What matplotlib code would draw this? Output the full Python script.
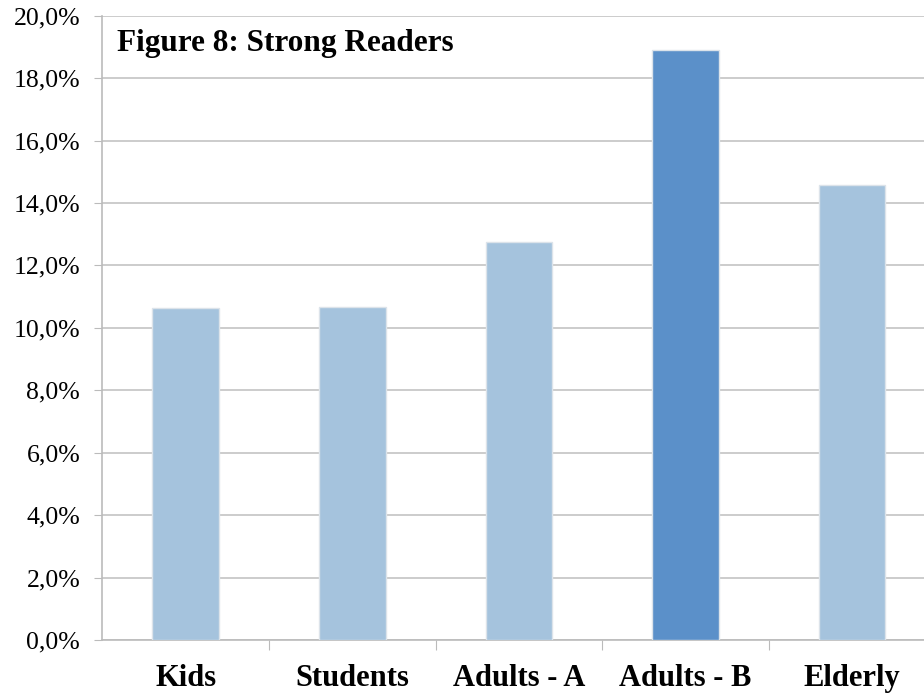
import matplotlib.pyplot as plt
from matplotlib.ticker import FuncFormatter

# strong readers per group (%)
groups = ['Kids', 'Students', 'Adults - A', 'Adults - B', 'Elderly']
share = [10.65, 10.67, 12.75, 18.9, 14.58]
bar_colors = ['#A5C3DD', '#A5C3DD', '#A5C3DD', '#5B90C9', '#A5C3DD']
y_ticks = [0, 2, 4, 6, 8, 10, 12, 14, 16, 18, 20]

plt.rcParams['font.family'] = ['Liberation Serif', 'DejaVu Serif']

fig = plt.figure(figsize=(9.24, 6.96), dpi=100)
ax = fig.add_axes([0.1109, 0.0805, 0.9015, 0.8969])

x = list(range(len(groups)))
ax.bar(x, share, width=0.4, color=bar_colors, edgecolor='#DCE3EA',
       linewidth=1.0, zorder=3)

ax.set_xlim(-0.5, len(groups) - 0.5)
ax.set_ylim(0, 20)
ax.set_yticks(y_ticks)
ax.yaxis.set_major_formatter(FuncFormatter(lambda v, p: f'{v:.1f}%'.replace('.', ',')))
ax.tick_params(axis='y', labelsize=18.5, length=6, color='#BBBBBB', pad=10)

# category ticks sit between the bars
ax.set_xticks([i + 0.5 for i in x[:-1]])
ax.set_xticklabels([])
ax.set_xticks(x, minor=True)
ax.set_xticklabels(groups, minor=True, fontsize=22, fontweight='bold')
ax.tick_params(axis='x', which='major', length=7, color='#BBBBBB')
ax.tick_params(axis='x', which='minor', length=0, pad=17)

ax.grid(axis='y', color='#C8C8C8', linewidth=1.3, zorder=0)
ax.set_axisbelow(True)
for side in ['top', 'right']:
    ax.spines[side].set_visible(False)
for side in ['left', 'bottom']:
    ax.spines[side].set_color('#BBBBBB')
    ax.spines[side].set_linewidth(1.2)

ax.text(0.018, 0.955, 'Figure 8: Strong Readers', transform=ax.transAxes,
        fontsize=22.5, fontweight='bold', va='center', ha='left')

fig.savefig('out.png', dpi=100)
